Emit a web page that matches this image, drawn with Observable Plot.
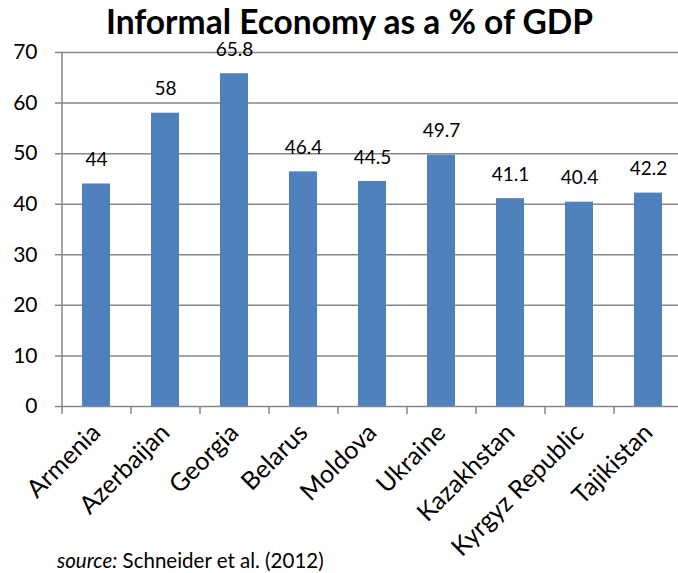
<!DOCTYPE html>
<html><head><meta charset="utf-8">
<script src="https://cdn.jsdelivr.net/npm/d3@7"></script>
<script src="https://cdn.jsdelivr.net/npm/@observablehq/plot@0.6"></script>
<style>
body{margin:0;background:#fff;font-family:Lato,sans-serif;width:678px;overflow:hidden;}
#title{height:30px;line-height:40px;font-size:33.5px;font-weight:bold;text-align:center;padding-left:21px;box-sizing:border-box;width:678px;position:relative;top:1px;white-space:nowrap;}
#chart svg{display:block;}
#source{height:38px;line-height:38px;font-size:20.5px;padding-left:57px;position:relative;top:6px;white-space:nowrap;}
</style></head><body>
<div id="title">Informal Economy as a % of GDP</div>
<div id="chart"></div>
<div id="source"><i>source:</i> Schneider et al. (2012)</div>
<script>
const countries = ["Armenia","Azerbaijan","Georgia","Belarus","Moldova","Ukraine","Kazakhstan","Kyrgyz Republic","Tajikistan"];
const values = [44, 58, 65.8, 46.4, 44.5, 49.7, 41.1, 40.4, 42.2];
const valueLabels = ["44","58","65.8","46.4","44.5","49.7","41.1","40.4","42.2"];
const yTicks = [0, 10, 20, 30, 40, 50, 60, 70];

const data = countries.map((c, i) => ({country: c, value: values[i], label: valueLabels[i]}));
const lineColor = "#878787";
const step = (678 + 5 - 62) / countries.length;

const chart = Plot.plot({
  width: 678,
  height: 505,
  marginTop: 22,
  marginBottom: 129,
  marginLeft: 62,
  marginRight: -5,
  style: {fontFamily: "Lato, sans-serif", color: "#000", background: "#fff", overflow: "visible"},
  x: {domain: countries, paddingInner: 0.594, paddingOuter: 0.297, label: null},
  y: {domain: [0, 70], label: null},
  marks: [
    Plot.ruleY(yTicks, {stroke: lineColor, strokeWidth: 1.5, insetLeft: -7}),
    Plot.barY(data, {x: "country", y: "value", fill: "#4F81BD"}),
    Plot.ruleX(countries, {x: d => d, dx: -step / 2, y1: -1.6, y2: 0, stroke: lineColor, strokeWidth: 1.5}),
    Plot.ruleX([countries[0]], {x: d => d, dx: -step / 2, y1: 0, y2: 70, stroke: lineColor, strokeWidth: 1.5}),
    Plot.axisY({ticks: yTicks, tickSize: 0, tickPadding: 25, fontSize: 21, label: null}),
    Plot.axisX({tickSize: 0, tickRotate: -45, tickPadding: 22, fontSize: 25, label: null}),
    Plot.text(data, {x: "country", y: "value", text: "label", dy: -24, fontSize: 19})
  ]
});
document.getElementById("chart").appendChild(chart);
</script>
</body></html>
